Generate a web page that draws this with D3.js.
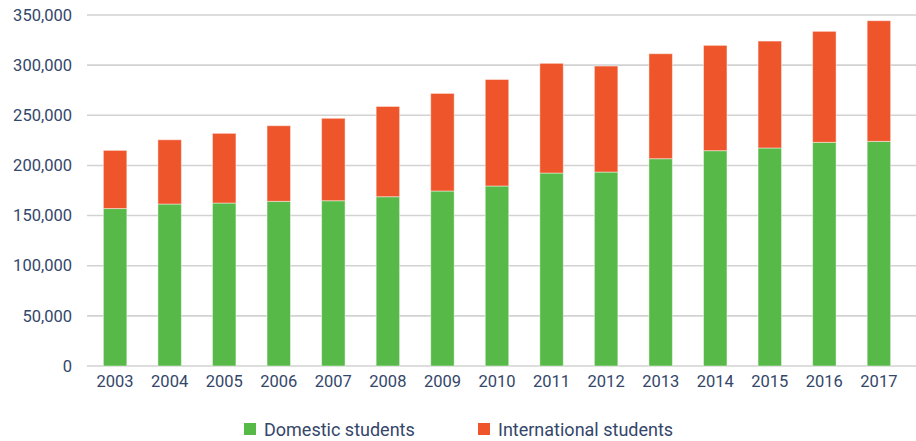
<!DOCTYPE html>
<html><head><meta charset="utf-8">
<script src="https://cdn.jsdelivr.net/npm/d3@7"></script>
<style>body{margin:0;background:#fff;}svg{display:block;}</style>
</head><body>
<svg id="c" width="916" height="441"></svg>
<script>
const years = ["2003","2004","2005","2006","2007","2008","2009","2010","2011","2012","2013","2014","2015","2016","2017"];
const domestic = [157000,161500,162500,164200,164800,168800,174500,179500,192400,193400,206700,214700,217400,223000,224000];
const international = [58000,64100,69500,75400,82200,90000,97300,106200,109400,105700,104700,105000,106600,110700,120300];
const yTicks = [0,50000,100000,150000,200000,250000,300000,350000];
const seriesNames = ["Domestic students","International students"];
const colors = ["#57b947","#ee552b"];

const svg = d3.select("#c");
const x = d3.scaleBand().domain(years).range([87,907]).paddingInner(0.57).paddingOuter(0.3);
const y = d3.scaleLinear().domain([0,350000]).range([366,15]);
const font = "Roboto, sans-serif";
const textCol = "#34466a";

// gridlines
svg.append("g").selectAll("line").data(yTicks).join("line")
  .attr("x1",87).attr("x2",916)
  .attr("y1",d=>y(d)).attr("y2",d=>y(d))
  .attr("stroke","#d2d2d2").attr("stroke-width",1.6);

// y labels
svg.append("g").selectAll("text").data(yTicks).join("text")
  .attr("x",72).attr("y",d=>y(d)).attr("dy","0.35em")
  .attr("text-anchor","end").attr("font-family",font).attr("font-size",16.5)
  .attr("fill",textCol).text(d=>d3.format(",")(d));

// stacked bars
const data = years.map((yr,i)=>({year:yr, d:domestic[i], n:international[i]}));
const stack = d3.stack().keys(["d","n"])(data);
svg.append("g").selectAll("g").data(stack).join("g")
  .attr("fill",(s,i)=>colors[i])
  .selectAll("rect").data(s=>s).join("rect")
  .attr("x",d=>x(d.data.year)).attr("width",x.bandwidth())
  .attr("y",d=>y(d[1])).attr("height",d=>y(d[0])-y(d[1]))
  .attr("stroke","rgba(255,255,255,0.45)").attr("stroke-width",1);

// x labels
svg.append("g").selectAll("text").data(years).join("text")
  .attr("x",d=>x(d)+x.bandwidth()/2).attr("y",387)
  .attr("text-anchor","middle").attr("font-family",font).attr("font-size",16.5)
  .attr("fill",textCol).text(d=>d);

// legend
const legX = [244,478];
const leg = svg.append("g").selectAll("g").data(seriesNames).join("g");
leg.append("rect").attr("x",(d,i)=>legX[i]).attr("y",423).attr("width",12).attr("height",12)
  .attr("fill",(d,i)=>colors[i]);
leg.append("text").attr("x",(d,i)=>legX[i]+20).attr("y",436)
  .attr("font-family",font).attr("font-size",18).attr("fill",textCol).text(d=>d);
</script>
</body></html>
